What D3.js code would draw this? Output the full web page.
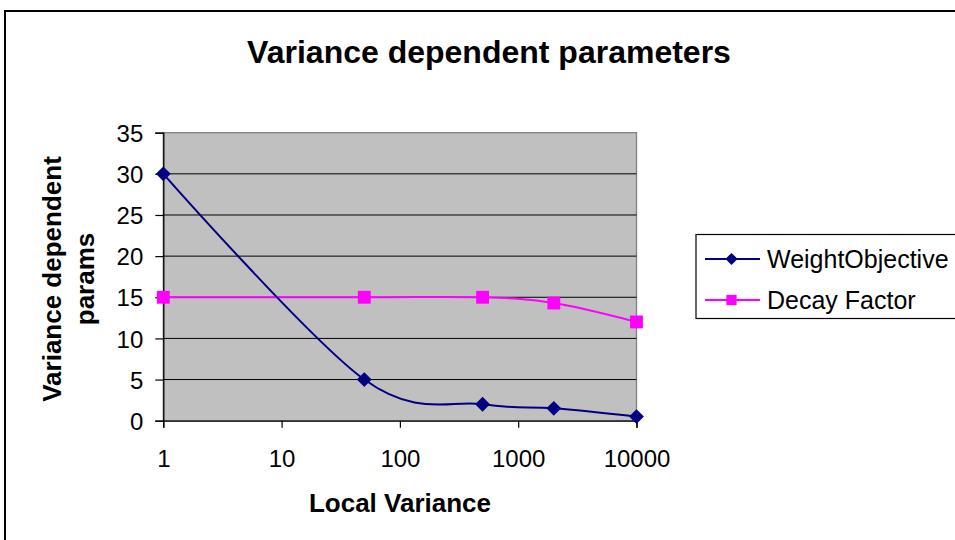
<!DOCTYPE html>
<html><head><meta charset="utf-8">
<script src="https://cdn.jsdelivr.net/npm/d3@7"></script>
<style>body{margin:0;background:#fff}svg{display:block;font-family:"Liberation Sans",Arial,sans-serif}</style>
</head><body>
<svg id="c" width="955" height="540"></svg>
<script>
const xValues = [1, 50, 500, 2000, 10000];
const weightObjective = [30, 5, 2, 1.5, 0.5];
const decayFactor = [15, 15, 15, 14.3, 12];
const yTicks = [0, 5, 10, 15, 20, 25, 30, 35];
const xTicks = [1, 10, 100, 1000, 10000];
const seriesNames = ["WeightObjective", "Decay Factor"];

const svg = d3.select("#c");
const L = 163.3, R = 636.5, T = 132.7, B = 420.7;
const x = d3.scaleLog().domain([1, 10000]).range([L, R]);
const y = d3.scaleLinear().domain([0, 35]).range([B, T]);

// outer chart border
svg.append("rect").attr("x", 5).attr("y", 11).attr("width", 1000).attr("height", 600)
  .attr("fill", "#fff").attr("stroke", "#000").attr("stroke-width", 2);

// title
svg.append("text").attr("x", 489).attr("y", 63).attr("text-anchor", "middle")
  .attr("font-size", 32).attr("font-weight", "bold").text("Variance dependent parameters");

// plot area
svg.append("rect").attr("x", L).attr("y", T).attr("width", R - L).attr("height", B - T)
  .attr("fill", "#C0C0C0").attr("stroke", "#808080").attr("stroke-width", 1.3);

// gridlines
svg.append("g").selectAll("line").data(yTicks.filter(d => d > 0 && d < 35)).join("line")
  .attr("x1", L).attr("x2", R).attr("y1", d => y(d)).attr("y2", d => y(d))
  .attr("stroke", "#000").attr("stroke-width", 1);

// axes
const yAxis = svg.append("g").attr("transform", `translate(${L},0)`)
  .call(d3.axisLeft(y).tickValues(yTicks).tickSize(8).tickPadding(12).tickFormat(d3.format("d")));
const xAxis = svg.append("g").attr("transform", `translate(0,${B})`)
  .call(d3.axisBottom(x).tickValues(xTicks).tickSize(7).tickPadding(20).tickFormat(d3.format("d")));
[yAxis, xAxis].forEach(a => {
  a.select(".domain").attr("stroke", "#000").attr("stroke-width", 1.3);
  a.selectAll(".tick line").attr("stroke", "#000").attr("stroke-width", 1.2);
  a.selectAll("text").attr("font-size", 24).attr("fill", "#000").attr("font-family", "Liberation Sans, Arial, sans-serif");
});
yAxis.selectAll("text").attr("dy", "0.36em");
xAxis.selectAll("text").attr("dy", null).attr("y", 46);

// axis titles
svg.append("text").attr("x", 400).attr("y", 512).attr("text-anchor", "middle")
  .attr("font-size", 26).attr("font-weight", "bold").text("Local Variance");
const yt = svg.append("text").attr("transform", "translate(0,279) rotate(-90)")
  .attr("font-size", 26).attr("font-weight", "bold").attr("text-anchor", "middle");
yt.append("tspan").attr("x", 0).attr("y", 61).text("Variance dependent");
yt.append("tspan").attr("x", 0).attr("y", 94).text("params");

// lines
const line = d3.line().x(d => x(d[0])).y(d => y(d[1])).curve(d3.curveCardinal.tension(0));
const wData = xValues.map((v, i) => [v, weightObjective[i]]);
const dData = xValues.map((v, i) => [v, decayFactor[i]]);
svg.append("path").datum(dData).attr("d", line).attr("fill", "none").attr("stroke", "#FF00FF").attr("stroke-width", 2);
svg.append("path").datum(wData).attr("d", line).attr("fill", "none").attr("stroke", "#000080").attr("stroke-width", 2);

const diamond = d3.symbol().type(d3.symbolDiamond2).size(140);
const square = d3.symbol().type(d3.symbolSquare).size(165);
svg.append("g").selectAll("path").data(dData).join("path")
  .attr("transform", d => `translate(${x(d[0])},${y(d[1])})`).attr("d", square).attr("fill", "#FF00FF");
svg.append("g").selectAll("path").data(wData).join("path")
  .attr("transform", d => `translate(${x(d[0])},${y(d[1])})`).attr("d", diamond).attr("fill", "#000080");

// legend
const lg = svg.append("g");
lg.append("rect").attr("x", 696).attr("y", 234.5).attr("width", 400).attr("height", 84)
  .attr("fill", "#fff").attr("stroke", "#000").attr("stroke-width", 1.2);
const colors = ["#000080", "#FF00FF"];
const legSyms = [d3.symbol().type(d3.symbolDiamond2).size(95), d3.symbol().type(d3.symbolSquare).size(105)];
seriesNames.forEach((n, i) => {
  const cy = 259 + i * 41;
  lg.append("line").attr("x1", 705).attr("x2", 760).attr("y1", cy).attr("y2", cy)
    .attr("stroke", colors[i]).attr("stroke-width", 2);
  lg.append("path").attr("transform", `translate(731.5,${cy})`).attr("d", legSyms[i]).attr("fill", colors[i]);
  lg.append("text").attr("x", 767).attr("y", cy).attr("dy", "0.36em").attr("font-size", 25).text(n);
});
</script>
</body></html>
